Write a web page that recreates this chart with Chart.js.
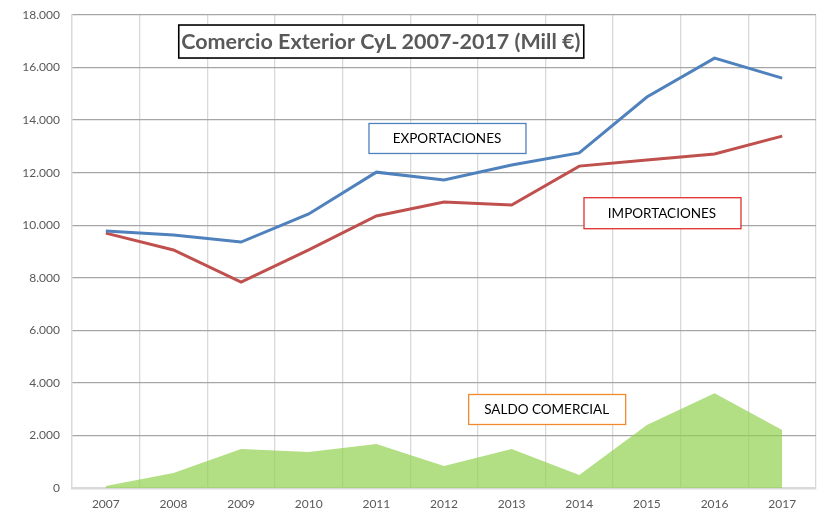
<!DOCTYPE html>
<html>
<head>
<meta charset="utf-8">
<script src="https://cdn.jsdelivr.net/npm/chart.js@4"></script>
<style>
  html, body { margin: 0; padding: 0; background: #fff; }
  #wrap { width: 825px; height: 512px; }
</style>
</head>
<body>
<div id="wrap"><canvas id="grafico"></canvas></div>
<script>
const years = ["2007", "2008", "2009", "2010", "2011", "2012", "2013", "2014", "2015", "2016", "2017"];
const exportaciones = [9780, 9630, 9360, 10430, 12020, 11720, 12290, 12750, 14880, 16360, 15600];
const importaciones = [9700, 9060, 7840, 9060, 10350, 10880, 10770, 12250, 12480, 12710, 13390];
const saldo = [80, 570, 1480, 1370, 1670, 840, 1480, 490, 2400, 3610, 2210];
const yTicks = [0, 2000, 4000, 6000, 8000, 10000, 12000, 14000, 16000, 18000];

const FONT = "Lato, 'Liberation Sans', sans-serif";
const fmt = v => String(v).replace(/\B(?=(\d{3})+(?!\d))/g, ".");

// cajas de texto encima del gráfico (posición relativa al área del gráfico)
const cajas = [
  { text: "Comercio Exterior CyL 2007-2017 (Mill €)", fx: 0.415, fy: 0.055, w: 405, h: 33, border: "#000000", color: "#595959", font: "bold 21.5px " + FONT, lw: 1.6 },
  { text: "EXPORTACIONES", fx: 0.504, fy: 0.260, w: 157, h: 30, border: "#4f81bd", color: "#000000", font: "13.5px " + FONT, lw: 1.3 },
  { text: "IMPORTACIONES", fx: 0.793, fy: 0.418, w: 157, h: 31, border: "#e03030", color: "#000000", font: "13.5px " + FONT, lw: 1.3 },
  { text: "SALDO COMERCIAL", fx: 0.638, fy: 0.833, w: 157, h: 30, border: "#f08a2c", color: "#000000", font: "13.5px " + FONT, lw: 1.3 }
];

const cajasPlugin = {
  id: "cajas",
  afterDatasetsDraw(chart) {
    const { ctx, chartArea: a } = chart;
    ctx.save();
    cajas.forEach(c => {
      const cx = a.left + c.fx * (a.right - a.left);
      const cy = a.top + c.fy * (a.bottom - a.top);
      ctx.fillStyle = "#ffffff";
      ctx.fillRect(cx - c.w / 2, cy - c.h / 2, c.w, c.h);
      ctx.strokeStyle = c.border;
      ctx.lineWidth = c.lw;
      ctx.strokeRect(cx - c.w / 2 + 0.5, cy - c.h / 2 + 0.5, c.w, c.h);
      ctx.fillStyle = c.color;
      ctx.font = c.font;
      ctx.textAlign = "center";
      ctx.textBaseline = "middle";
      ctx.fillText(c.text, cx, cy + 1);
    });
    ctx.restore();
  }
};

new Chart(document.getElementById("grafico"), {
  type: "line",
  data: {
    labels: years,
    datasets: [
      {
        label: "EXPORTACIONES",
        data: exportaciones,
        borderColor: "#4f81bd",
        borderWidth: 3,
        pointRadius: 0,
        tension: 0,
        fill: false
      },
      {
        label: "IMPORTACIONES",
        data: importaciones,
        borderColor: "#c0504d",
        borderWidth: 3,
        pointRadius: 0,
        tension: 0,
        fill: false
      },
      {
        label: "SALDO COMERCIAL",
        data: saldo,
        borderWidth: 0,
        borderColor: "rgba(0,0,0,0)",
        backgroundColor: "rgba(146,208,80,0.7)",
        pointRadius: 0,
        tension: 0,
        fill: "origin"
      }
    ]
  },
  options: {
    responsive: true,
    maintainAspectRatio: false,
    animation: false,
    layout: { padding: { top: 15, right: 9, bottom: 0, left: 0 } },
    plugins: {
      legend: { display: false },
      tooltip: { enabled: false },
      title: { display: false }
    },
    scales: {
      x: {
        offset: true,
        grid: { offset: true, color: "#d9d9d9", lineWidth: 1.3, drawTicks: false },
        border: { color: "#d9d9d9", width: 2.5 },
        ticks: { color: "#595959", font: { family: FONT, size: 12 }, padding: 9, maxRotation: 0 },
        afterFit(scale) { scale.height = 24; }
      },
      y: {
        min: 0,
        max: 18000,
        afterBuildTicks(scale) { scale.ticks = yTicks.map(v => ({ value: v })); },
        grid: { color: "#a6a6a6", lineWidth: 1.3, drawTicks: false },
        border: { color: "#d9d9d9", width: 1.3 },
        ticks: {
          color: "#595959",
          font: { family: FONT, size: 12 },
          padding: 12,
          callback: v => fmt(v)
        },
        afterFit(scale) { scale.width = 72; scale.paddingTop = 0; scale.paddingBottom = 0; }
      }
    }
  },
  plugins: [cajasPlugin]
});
</script>
</body>
</html>
